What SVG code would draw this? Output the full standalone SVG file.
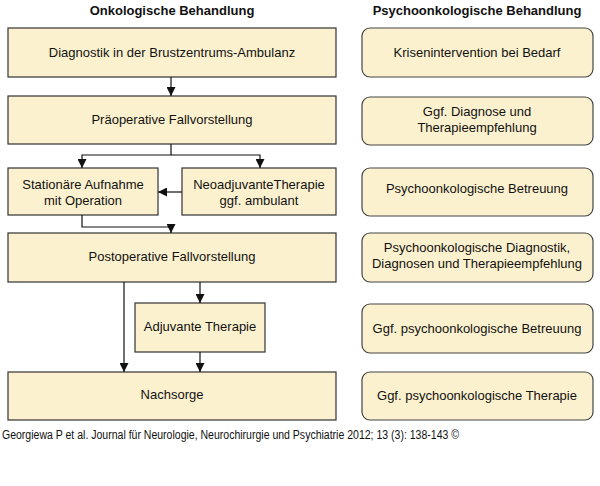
<svg xmlns="http://www.w3.org/2000/svg" width="600" height="486" viewBox="0 0 600 486">
<defs>
<marker id="ah" viewBox="0 0 10 10" refX="10" refY="5" markerWidth="9" markerHeight="9" markerUnits="userSpaceOnUse" orient="auto">
<path d="M0,0 L10,5 L0,10 Z" fill="#111"/>
</marker>
</defs>
<style>
.b{fill:#FCF1CF;stroke:#333;stroke-width:1.2}
.r{fill:#FCF1CF;stroke:#444;stroke-width:1.2}
.t{font-family:"Liberation Sans",Arial,sans-serif;font-size:13px;fill:#111;text-anchor:middle}
.h{font-family:"Liberation Sans",Arial,sans-serif;font-size:13px;font-weight:bold;fill:#111;text-anchor:middle}
.f{font-family:"Liberation Sans",Arial,sans-serif;font-size:12px;fill:#111}
.c{fill:none;stroke:#111;stroke-width:1.2}
</style>
<rect width="600" height="486" fill="#fff"/>
<text class="h" x="172" y="15">Onkologische Behandlung</text>
<text class="h" x="477" y="15">Psychoonkologische Behandlung</text>

<g id="n1"><rect class="b" x="8" y="28" width="328" height="49"/><text class="t" x="172" y="57">Diagnostik in der Brustzentrums-Ambulanz</text></g>
<g id="n2"><rect class="b" x="8" y="96" width="328" height="48"/><text class="t" x="172" y="124">Präoperative Fallvorstellung</text></g>
<g id="n3"><rect class="b" x="8" y="168" width="150" height="47"/><text class="t" x="83" y="189">Stationäre Aufnahme</text><text class="t" x="83" y="205">mit Operation</text></g>
<g id="n4"><rect class="b" x="182" y="168" width="154" height="47"/><text class="t" x="259" y="189">NeoadjuvanteTherapie</text><text class="t" x="259" y="205">ggf. ambulant</text></g>
<g id="n5"><rect class="b" x="8" y="233" width="328" height="49"/><text class="t" x="172" y="261">Postoperative Fallvorstellung</text></g>
<g id="n6"><rect class="b" x="135" y="303" width="130" height="49"/><text class="t" x="200" y="331">Adjuvante Therapie</text></g>
<g id="n7"><rect class="b" x="8" y="372" width="328" height="48"/><text class="t" x="172" y="399">Nachsorge</text></g>

<g id="p1"><rect class="r" x="362" y="28" width="231" height="49" rx="8"/><text class="t" x="477" y="57">Krisenintervention bei Bedarf</text></g>
<g id="p2"><rect class="r" x="362" y="97" width="231" height="48" rx="8"/><text class="t" x="477" y="116">Ggf. Diagnose und</text><text class="t" x="477" y="132">Therapieempfehlung</text></g>
<g id="p3"><rect class="r" x="362" y="168" width="231" height="48" rx="8"/><text class="t" x="477" y="193">Psychoonkologische Betreuung</text></g>
<g id="p4"><rect class="r" x="362" y="233" width="231" height="49" rx="8"/><text class="t" x="477" y="252">Psychoonkologische Diagnostik,</text><text class="t" x="477" y="268">Diagnosen und Therapieempfehlung</text></g>
<g id="p5"><rect class="r" x="362" y="304" width="231" height="49" rx="8"/><text class="t" x="477" y="333">Ggf. psychoonkologische Betreuung</text></g>
<g id="p6"><rect class="r" x="362" y="372" width="231" height="48" rx="8"/><text class="t" x="477" y="400">Ggf. psychoonkologische Therapie</text></g>

<g id="connectors">
<path class="c" d="M171,77 V96" marker-end="url(#ah)"/>
<path class="c" d="M171,144 V155 H82 V168" marker-end="url(#ah)"/>
<path class="c" d="M171,155 H260 V168" marker-end="url(#ah)"/>
<path class="c" d="M182,192 H158" marker-end="url(#ah)"/>
<path class="c" d="M82,215 V227 H171 V233" marker-end="url(#ah)"/>
<path class="c" d="M200,282 V303" marker-end="url(#ah)"/>
<path class="c" d="M124,282 V372" marker-end="url(#ah)"/>
<path class="c" d="M200,352 V372" marker-end="url(#ah)"/>
</g>

<text class="f" x="2" y="439" textLength="457" lengthAdjust="spacingAndGlyphs">Georgiewa P et al. Journal für Neurologie, Neurochirurgie und Psychiatrie 2012; 13 (3): 138-143 ©</text>
</svg>
